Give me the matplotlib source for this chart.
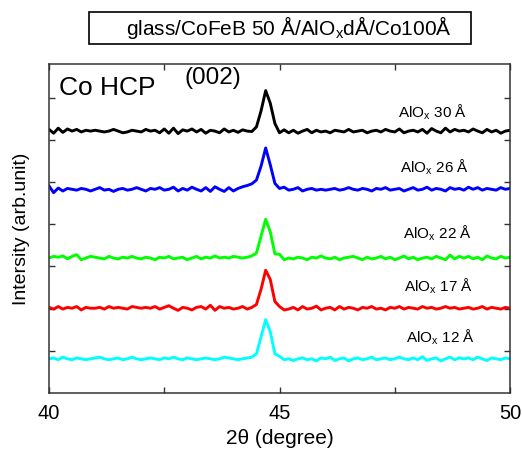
import numpy as np
import matplotlib
matplotlib.use("Agg")
import matplotlib.pyplot as plt
from matplotlib.patches import Rectangle

plt.rcParams['font.family'] = ['Liberation Sans', 'DejaVu Sans']

# 2theta grid (degree), 40 -> 50 in 0.1 steps
two_theta = np.linspace(40, 50, 101)

# intensities (hundredths of a unit above each curve's baseline)
aloxs_30 = [4, -5, 7, -3, 5, 0, 4, -2, 2, 0,
            2, 0, -2, 0, 4, 0, -4, -2, 2, 0,
            -2, 4, 0, 2, -4, 5, -5, 7, -6, 3,
            0, 5, -2, 4, -5, 2, 0, -4, 5, -2,
            2, -3, 3, 0, -1, 10, 48, 96, 66, 18,
            -4, 3, -4, 2, -5, 0, 4, -4, 2, -2,
            0, -4, 2, 0, -2, 4, -2, 0, 2, -4,
            0, 2, -2, 4, 0, -2, 5, -4, 0, 2,
            -2, 4, -5, 6, 0, -4, 7, -2, 4, 0,
            2, -2, 5, 0, -4, 4, -2, 2, -5, 0,
            2]
aloxs_26 = [8, -8, 3, -4, 2, 0, -2, 2, 0, -4,
            0, 4, -2, 0, -5, 0, 2, -2, 0, 4,
            0, -4, 2, 0, 4, -2, 0, 5, -4, 2,
            -2, 5, 0, -4, 4, -5, 6, 0, -5, 4,
            -4, 2, 6, 9, 13, 22, 55, 98, 58, 14,
            2, 5, -2, 0, 4, -4, 0, 2, -2, 0,
            -2, 0, 2, -2, 0, 4, 0, -2, 2, 0,
            -4, 2, 0, 4, -2, 0, 2, -4, 0, 4,
            -2, 0, 5, -2, 2, 0, -4, 4, 0, 2,
            -2, 5, 0, 4, -2, 2, 0, -2, 4, 0,
            2]
aloxs_22 = [0, 4, 2, 5, -2, 4, 8, -4, 0, 4,
            2, 0, -2, 4, 0, -2, 2, 0, 4, 0,
            -2, 2, 0, -4, 2, 0, 4, -2, 0, 2,
            -4, 0, 4, -2, 2, 0, 5, 0, 2, 0,
            4, 2, 0, 2, 5, 12, 52, 92, 62, 10,
            9, -4, 0, -2, 2, 0, -4, 2, 0, 5,
            0, -2, 2, -4, 0, 2, 4, 0, -4, 2,
            -2, 0, 4, -2, 2, -4, 0, 5, -2, 2,
            -4, 0, 2, -2, 4, 0, -4, 7, -2, 4,
            0, 4, -2, 2, -4, 5, 0, -2, 4, 0,
            2]
aloxs_17 = [2, -2, 4, -2, 2, 0, 4, -4, 2, 0,
            0, 2, -2, 4, 0, 2, 0, -2, 4, 2,
            0, 2, 0, 4, -2, 2, 6, 0, -5, 2,
            0, -4, 2, 4, -2, 7, -5, 4, 0, 2,
            -2, 0, 4, -2, 2, 9, 45, 90, 68, 16,
            4, -4, -2, 2, -4, 4, -2, 0, 5, -4,
            0, 2, -4, 4, -2, 2, 0, -4, 2, 0,
            4, -2, 0, -4, 2, 0, 4, -2, 2, 0,
            -2, 4, 0, 2, -2, 0, 4, 0, 2, -2,
            0, 2, -2, 0, 4, -2, 2, 0, -2, 2,
            0]
aloxs_12 = [0, 2, -2, 4, 0, -2, 2, 0, -2, 0,
            2, 4, 0, -2, 0, 2, -2, 0, 4, 0,
            -2, 0, 2, 0, -2, 2, 0, 4, 0, -2,
            2, 0, -2, 0, 2, 0, -2, 0, 4, 2,
            0, -2, 0, 2, 4, 12, 52, 93, 64, 12,
            6, -2, 0, -4, 0, 2, -2, 0, -5, 2,
            0, 4, -4, 0, 2, -5, 0, 2, -2, 0,
            4, -2, 0, 2, -2, 0, 4, 0, -2, 2,
            -2, 5, -4, 0, 2, -5, 0, 4, -2, 2,
            0, 2, -2, 4, 0, -4, 2, 0, -2, 2,
            0]
series = [aloxs_30, aloxs_26, aloxs_22, aloxs_17, aloxs_12]
thickness = ['30', '26', '22', '17', '12']

# vertical offsets used to stack the patterns
offsets = [6.21, 4.83, 3.20, 2.01, 0.81]
colors = ['black', '#0000ff', '#00ff00', '#ff0000', '#00ffff']
label_pos = [(47.58, 6.66), (47.61, 5.36), (47.68, 3.79), (47.7, 2.54), (47.75, 1.33)]

fig = plt.figure(figsize=(5.22, 4.51), dpi=100)
ax = fig.add_axes([0.0939, 0.1286, 0.8831, 0.7294])

for vals, off, c, t, (lx, ly) in zip(series, offsets, colors, thickness, label_pos):
    y = np.array(vals) / 100.0 + off
    ax.plot(two_theta, y, color=c, lw=2.1)
    ax.text(lx, ly, r'AlO$_\mathregular{x}$ ' + t + ' Å', fontsize=11, va='center', ha='left')

ax.set_xlim(40, 50)
ax.set_ylim(0, 7.8)
ax.set_xticks([40, 45, 50])
ax.set_xticks([42.5, 47.5], minor=True)
ax.set_yticks(np.arange(1, 8))
ax.set_yticklabels([])
ax.tick_params(which='both', direction='in', top=True, right=True, length=4.5, width=1, color='#333333')
ax.tick_params(axis='x', labelsize=14.5, pad=8)
for sp in ax.spines.values():
    sp.set_color('#333333')
    sp.set_linewidth(1.1)

ax.set_xlabel('2θ (degree)', fontsize=15, labelpad=4)
ax.set_ylabel('Intersity (arb.unit)', fontsize=14, labelpad=10)

ax.text(0.022, 0.965, 'Co HCP', transform=ax.transAxes, fontsize=19, va='top')
ax.text(0.293, 0.99, '(002)', transform=ax.transAxes, fontsize=17.5, va='top')

# sample stack in a box above the plot
fig.patches.append(Rectangle((0.1705, 0.9024), 0.7318, 0.071, transform=fig.transFigure,
                             fill=False, ec='black', lw=1.2))
fig.text(0.5537, 0.938, r'glass/CoFeB 50 Å/AlO$_\mathregular{x}$dÅ/Co100Å', fontsize=15,
         ha='center', va='center')

fig.savefig('out.png', dpi=100)
